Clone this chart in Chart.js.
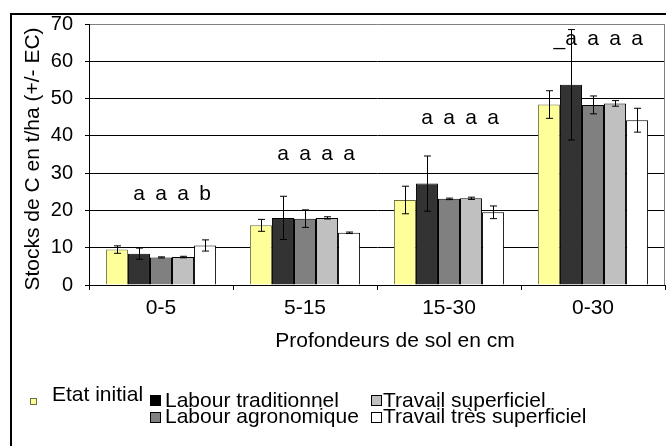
<!DOCTYPE html>
<html>
<head>
<meta charset="utf-8">
<script src="https://cdn.jsdelivr.net/npm/chart.js@4"></script>
<style>
    body { margin: 0; width: 666px; height: 446px; overflow: hidden; background: #fff; position: relative;
           font-family: "Liberation Sans", Arial, sans-serif; color: #000; }
    #frame { position: absolute; left: 10px; top: 13px; width: 700px; height: 500px; border: 2px solid #000; }
    canvas { position: absolute; left: 0; top: 0; }
    .leg-text { position: absolute; font-size: 21px; line-height: 20px; white-space: nowrap; }
    .leg-box { position: absolute; box-sizing: border-box; border: 1px solid #000; }
    #xtitle { position: absolute; left: 395px; top: 328px; font-size: 21px; line-height: 24px;
              transform: translateX(-50%); white-space: nowrap; }
</style>
</head>
<body>
<div id="frame"></div>
<canvas id="chart" width="666" height="446"></canvas>
<div id="xtitle"></div>
<div id="legend"></div>
<script>
const categories = ['0-5', '5-15', '15-30', '0-30'];
const seriesNames = ['Etat initial', 'Labour traditionnel', 'Labour agronomique', 'Travail superficiel', 'Travail très superficiel'];
const yTitle = 'Stocks de C en t/ha (+/- EC)';
const xTitle = 'Profondeurs de sol en cm';

// stocks de C (t/ha)
const etatInitial = [9.5, 16.0, 22.8, 48.4];
const labourTrad = [8.4, 18.0, 27.2, 53.7];
const labourAgro = [7.4, 17.8, 23.1, 48.3];
const travailSup = [7.5, 18.0, 23.25, 48.7];
const travailTresSup = [10.6, 14.0, 19.5, 44.2];

// erreurs (+/- EC)
const errEtat = [1.0, 1.6, 3.7, 3.7];
const errTrad = [1.5, 5.8, 7.4, 14.8];
const errAgro = [0.15, 2.35, 0.2, 2.4];
const errSup = [0.2, 0.3, 0.3, 0.75];
const errTresSup = [1.5, 0.2, 1.7, 3.2];

// lettres de significativite, au-dessus des barres 2 a 5
const letters = [['a', 'a', 'a', 'b'], ['a', 'a', 'a', 'a'], ['a', 'a', 'a', 'a'], ['_a', 'a', 'a', 'a']];
const letterY = [22.9, 33.5, 43.2, 64.5];

const yMin = 0;
const yMax = 70;
const yStep = 10;

const barColors = ['#FFFF99', '#333333', '#808080', '#C0C0C0', '#FFFFFF'];
const barBorders = ['#6e6e45', '#000000', '#000000', '#000000', '#000000'];
const legendColors = ['#FFFF99', '#000000', '#808080', '#C0C0C0', '#FFFFFF'];

const FONT = '"Liberation Sans", Arial, sans-serif';
Chart.defaults.font.family = FONT;
Chart.defaults.color = '#000';

const values = [etatInitial, labourTrad, labourAgro, travailSup, travailTresSup];
const errors = [errEtat, errTrad, errAgro, errSup, errTresSup];

const errorBarsPlugin = {
    id: 'errorBars',
    afterDatasetsDraw(chart) {
        const ctx = chart.ctx;
        const y = chart.scales.y;
        ctx.save();
        ctx.strokeStyle = '#000';
        ctx.lineWidth = 1;
        values.forEach((series, i) => {
            const meta = chart.getDatasetMeta(i);
            meta.data.forEach((bar, j) => {
                const x = Math.round(bar.x) + 0.5;
                const top = y.getPixelForValue(series[j] + errors[i][j]);
                const bot = y.getPixelForValue(series[j] - errors[i][j]);
                ctx.beginPath();
                ctx.moveTo(x, top);
                ctx.lineTo(x, bot);
                ctx.moveTo(x - 3.5, top);
                ctx.lineTo(x + 3.5, top);
                ctx.moveTo(x - 3.5, bot);
                ctx.lineTo(x + 3.5, bot);
                ctx.stroke();
            });
        });

        // lettres
        ctx.fillStyle = '#000';
        ctx.font = '21px ' + FONT;
        ctx.textBaseline = 'alphabetic';
        letters.forEach((row, j) => {
            const ly = y.getPixelForValue(letterY[j]);
            row.forEach((txt, k) => {
                const bar = chart.getDatasetMeta(k + 1).data[j];
                const half = ctx.measureText('a').width / 2;
                ctx.textAlign = 'right';
                ctx.fillText(txt, bar.x + half, ly);
            });
        });

        // titre de l'axe vertical, un peu plus bas que le centre
        ctx.save();
        ctx.translate(33, 159);
        ctx.rotate(-Math.PI / 2);
        ctx.textAlign = 'center';
        ctx.textBaseline = 'middle';
        ctx.fillText(yTitle, 0, 0);
        ctx.restore();

        // bord droit de la zone de tracé
        const area = chart.chartArea;
        ctx.strokeStyle = '#808080';
        ctx.beginPath();
        ctx.moveTo(area.right - 0.5, area.top);
        ctx.lineTo(area.right - 0.5, area.bottom);
        ctx.stroke();
        ctx.restore();
    }
};

const chart = new Chart(document.getElementById('chart'), {
    type: 'bar',
    data: {
        labels: categories,
        datasets: values.map((series, i) => ({
            label: seriesNames[i],
            data: series,
            backgroundColor: barColors[i],
            borderColor: barBorders[i],
            borderWidth: 1,
            categoryPercentage: 0.765,
            barPercentage: 1
        }))
    },
    options: {
        responsive: false,
        animation: false,
        devicePixelRatio: 1,
        layout: { padding: { top: 22, right: 1, bottom: 0, left: 0 } },
        plugins: { legend: { display: false }, tooltip: { enabled: false } },
        scales: {
            x: {
                ticks: { color: '#000', font: { size: 21 }, padding: 6 },
                grid: { drawOnChartArea: false, drawTicks: true, tickLength: 5, color: '#000', offset: true },
                border: { color: '#000' },
                afterFit(scale) { scale.height = 446 - 285; }
            },
            y: {
                min: yMin,
                max: yMax,
                ticks: { stepSize: yStep, color: '#000', font: { size: 20 }, padding: 12 },
                grid: {
                    color: c => (c.tick && c.tick.value === yMax) ? '#808080' : '#000',
                    tickColor: '#000',
                    tickLength: 4,
                    lineWidth: 1
                },
                border: { color: '#000' },
                afterFit(scale) { scale.width = 89; }
            }
        }
    },
    plugins: [errorBarsPlugin]
});

document.getElementById('xtitle').textContent = xTitle;

// legende (deux colonnes comme dans Excel)
const legendLayout = [
    { box: [30, 398, 7], text: [52, 384] },
    { box: [150, 395, 11], text: [165, 390] },
    { box: [150, 412, 11], text: [165, 406] },
    { box: [371, 395, 11], text: [383, 390] },
    { box: [371, 412, 11], text: [383, 406] }
];
const legend = document.getElementById('legend');
seriesNames.forEach((name, i) => {
    const l = legendLayout[i];
    const box = document.createElement('div');
    box.className = 'leg-box';
    box.style.left = l.box[0] + 'px';
    box.style.top = l.box[1] + 'px';
    box.style.width = l.box[2] + 'px';
    box.style.height = l.box[2] + 'px';
    box.style.background = legendColors[i];
    if (i === 0) box.style.borderColor = '#6e6e45';
    legend.appendChild(box);
    const t = document.createElement('div');
    t.className = 'leg-text';
    t.style.left = l.text[0] + 'px';
    t.style.top = l.text[1] + 'px';
    t.textContent = name;
    legend.appendChild(t);
});
</script>
</body>
</html>
